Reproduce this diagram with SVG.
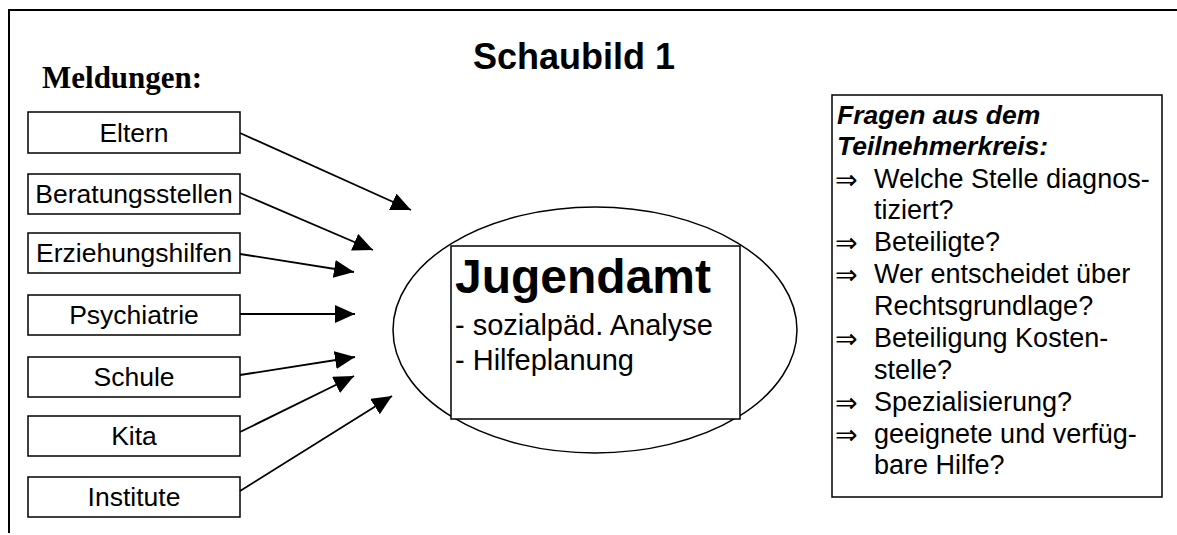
<svg xmlns="http://www.w3.org/2000/svg" width="1177" height="535" viewBox="0 0 1177 535">
  <style>
    .frame { fill: none; stroke: #000; stroke-width: 2; }
    .box { fill: #fff; stroke: #000; stroke-width: 1.5; }
    .lbl { font-family: "Liberation Sans", Arial, sans-serif; font-size: 26.5px; fill: #000; text-anchor: middle; }
    .q { font-family: "Liberation Sans", Arial, sans-serif; font-size: 27px; fill: #000; }
    .qa { font-family: "DejaVu Sans", sans-serif; font-size: 27px; fill: #000; }
    .qh { font-family: "Liberation Sans", Arial, sans-serif; font-size: 26.5px; font-weight: bold; font-style: italic; fill: #000; }
    .conn { stroke: #000; stroke-width: 1.8; fill: none; marker-end: url(#arrow); }
  </style>
  <defs>
    <marker id="arrow" markerUnits="userSpaceOnUse" markerWidth="22" markerHeight="20" refX="20" refY="9" orient="auto">
      <path d="M0,0 L20,9 L0,18 Z" fill="#000"/>
    </marker>
  </defs>

  <rect width="1177" height="535" fill="#fff"/>

  <!-- outer frame (open to the right and bottom) -->
  <path class="frame" d="M9,533 V10 H1177"/>

  <!-- headings -->
  <text x="473" y="69" font-family="'Liberation Sans', Arial, sans-serif" font-size="36" font-weight="bold">Schaubild 1</text>
  <text x="42" y="88" font-family="'Liberation Serif', 'Times New Roman', serif" font-size="31" font-weight="bold">Meldungen:</text>

  <!-- reporting sources -->
  <g id="eltern"><rect class="box" x="28" y="112" width="212" height="41"/><text class="lbl" x="134" y="142">Eltern</text></g>
  <g id="beratungsstellen"><rect class="box" x="28" y="174" width="212" height="40"/><text class="lbl" x="134" y="203">Beratungsstellen</text></g>
  <g id="erziehungshilfen"><rect class="box" x="28" y="233" width="212" height="40"/><text class="lbl" x="134" y="262">Erziehungshilfen</text></g>
  <g id="psychiatrie"><rect class="box" x="28" y="295" width="212" height="40"/><text class="lbl" x="134" y="324">Psychiatrie</text></g>
  <g id="schule"><rect class="box" x="28" y="357" width="212" height="40"/><text class="lbl" x="134" y="386">Schule</text></g>
  <g id="kita"><rect class="box" x="28" y="416" width="212" height="40"/><text class="lbl" x="134" y="445">Kita</text></g>
  <g id="institute"><rect class="box" x="28" y="477" width="212" height="40"/><text class="lbl" x="134" y="506">Institute</text></g>

  <!-- central office -->
  <g id="jugendamt">
    <ellipse cx="595" cy="330" rx="202" ry="123" fill="none" stroke="#000" stroke-width="1.5"/>
    <rect class="box" x="451" y="246" width="289" height="173" fill="none"/>
    <text x="455" y="293" font-family="'Liberation Sans', Arial, sans-serif" font-size="48" font-weight="bold">Jugendamt</text>
    <text x="455" y="335" font-family="'Liberation Sans', Arial, sans-serif" font-size="29">- sozialpäd. Analyse</text>
    <text x="455" y="370" font-family="'Liberation Sans', Arial, sans-serif" font-size="29">- Hilfeplanung</text>
  </g>

  <!-- connectors -->
  <g id="connectors">
    <line class="conn" x1="240" y1="133" x2="411" y2="210"/>
    <line class="conn" x1="240" y1="193" x2="373" y2="250"/>
    <line class="conn" x1="240" y1="254" x2="354" y2="272"/>
    <line class="conn" x1="240" y1="314" x2="355" y2="314"/>
    <line class="conn" x1="240" y1="375" x2="355" y2="357"/>
    <line class="conn" x1="240" y1="432" x2="354" y2="376"/>
    <line class="conn" x1="240" y1="491" x2="392" y2="396"/>
  </g>

  <!-- questions panel -->
  <g id="fragen">
    <rect class="box" x="832" y="95" width="330" height="402"/>
    <text class="qh" x="837" y="124">Fragen aus dem</text>
    <text class="qh" x="837" y="155">Teilnehmerkreis:</text>
    <text class="qa" x="835" y="189">⇒</text><text class="q" x="874" y="188">Welche Stelle diagnos-</text>
    <text class="q" x="874" y="219">tiziert?</text>
    <text class="qa" x="835" y="252">⇒</text><text class="q" x="874" y="251">Beteiligte?</text>
    <text class="qa" x="835" y="284">⇒</text><text class="q" x="874" y="283">Wer entscheidet über</text>
    <text class="q" x="874" y="315">Rechtsgrundlage?</text>
    <text class="qa" x="835" y="348">⇒</text><text class="q" x="874" y="347">Beteiligung Kosten-</text>
    <text class="q" x="874" y="379">stelle?</text>
    <text class="qa" x="835" y="412">⇒</text><text class="q" x="874" y="411">Spezialisierung?</text>
    <text class="qa" x="835" y="444">⇒</text><text class="q" x="874" y="443">geeignete und verfüg-</text>
    <text class="q" x="874" y="474">bare Hilfe?</text>
  </g>
</svg>
